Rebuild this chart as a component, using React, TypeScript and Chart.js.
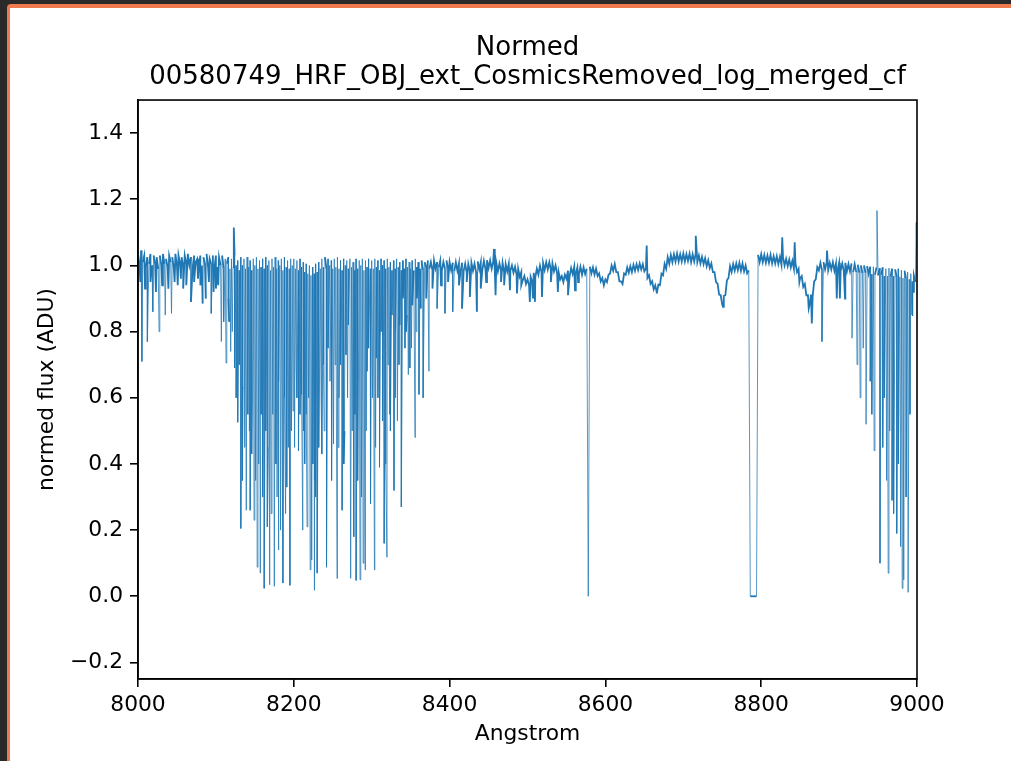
import { useEffect, useRef } from 'react';
import { Chart, registerables } from 'chart.js';
Chart.register(...registerables);

// Continuum samples (normed flux), 2 Å apart, starting at the segment's wavelength
const cont8000 = [1.035, 1.0, 1.045, 1.01, 1.03, 0.995, 1.025, 1.005, 1.035, 1.0,
  1.03, 1.005, 1.025, 0.99, 1.03, 1.0, 1.035, 1.005, 1.02, 0.995,
  1.03, 1.01, 1.025, 0.99, 1.035, 1.0, 1.03, 1.005, 1.025, 0.995,
  1.03, 1.005, 1.035, 1.0, 1.025, 0.99, 1.03, 1.01, 1.02, 0.995,
  1.03, 1.0, 1.025, 1.005, 1.035, 0.995, 1.02, 1.005, 1.03, 0.99];
const cont8100 = [1.03, 0.995, 1.025, 1.0, 1.03, 0.99, 1.02, 1.005, 1.025, 0.99,
  1.02, 0.995, 1.03, 1.0, 1.015, 0.985, 1.025, 1.0, 1.02, 0.99,
  1.025, 0.995, 1.015, 0.985, 1.02, 1.0, 1.025, 0.99, 1.015, 0.995,
  1.02, 0.99, 1.025, 1.0, 1.015, 0.985, 1.02, 0.995, 1.025, 0.99,
  1.015, 1.0, 1.02, 0.985, 1.025, 0.995, 1.015, 0.99, 1.02, 1.0];
const cont8200 = [1.02, 0.99, 1.015, 0.985, 1.02, 0.995, 1.01, 0.98, 1.005, 0.975,
  1.0, 0.97, 0.995, 0.975, 1.005, 0.98, 1.01, 0.99, 1.02, 0.995,
  1.025, 0.99, 1.02, 1.0, 1.015, 0.99, 1.02, 0.995, 1.025, 0.99,
  1.015, 0.985, 1.02, 1.0, 1.015, 0.99, 1.02, 0.995, 1.01, 0.985,
  1.02, 0.99, 1.015, 1.0, 1.02, 0.985, 1.015, 0.995, 1.02, 0.99];
const cont8300 = [1.015, 0.99, 1.02, 0.995, 1.015, 0.985, 1.02, 1.0, 1.015, 0.99,
  1.02, 0.995, 1.01, 0.985, 1.015, 0.99, 1.02, 0.995, 1.01, 0.985,
  1.015, 0.99, 1.02, 0.995, 1.01, 0.99, 1.015, 0.985, 1.02, 0.995,
  1.01, 0.99, 1.015, 0.985, 1.01, 0.995, 1.015, 0.99, 1.01, 0.985,
  1.015, 0.99, 1.01, 0.995, 1.015, 0.985, 1.01, 0.99, 1.015, 0.99];
const cont8400 = [1.01, 0.985, 1.008, 0.982, 1.01, 0.984, 1.006, 0.98, 1.008, 0.983,
  1.005, 0.978, 1.004, 0.982, 1.008, 0.984, 1.005, 0.98, 1.012, 0.988,
  1.01, 0.986, 1.014, 0.99, 1.016, 0.992, 1.015, 0.99, 1.012, 0.986,
  1.008, 0.982, 1.006, 0.984, 1.008, 0.98, 1.004, 0.982, 1.006, 0.984,
  1.0, 0.978, 0.996, 0.972, 0.99, 0.966, 0.98, 0.956, 0.968, 0.944];
const cont8500 = [0.958, 0.94, 0.966, 0.952, 0.978, 0.964, 0.99, 0.972, 1.0, 0.98,
  1.008, 0.986, 1.01, 0.988, 1.01, 0.986, 1.006, 0.982, 1.0, 0.976,
  0.98, 0.958, 0.968, 0.95, 0.972, 0.96, 0.984, 0.966, 0.992, 0.974,
  0.996, 0.976, 0.994, 0.974, 0.996, 0.972, 0.994, 0.974, 0.99, 0.0,
  0.996, 0.976, 0.994, 0.972, 0.99, 0.968, 0.976, 0.952, 0.962, 0.94];
const cont8600 = [0.958, 0.95, 0.972, 0.976, 1.0, 0.984, 1.004, 0.98, 0.98, 0.952,
  0.952, 0.944, 0.976, 0.972, 0.994, 0.978, 0.998, 0.98, 1.002, 0.984,
  1.004, 0.986, 1.006, 0.988, 1.004, 0.982, 0.99, 0.962, 0.97, 0.944,
  0.952, 0.928, 0.94, 0.918, 0.942, 0.94, 0.975, 0.97, 1.005, 0.99,
  1.025, 1.005, 1.032, 1.01, 1.034, 1.012, 1.036, 1.012, 1.034, 1.012];
const cont8700 = [1.036, 1.012, 1.034, 1.014, 1.036, 1.01, 1.034, 1.012, 1.036, 1.01,
  1.03, 1.006, 1.026, 1.004, 1.022, 0.998, 1.016, 0.992, 1.006, 0.98,
  0.98, 0.95, 0.945, 0.912, 0.91, 0.882, 0.908, 0.91, 0.955, 0.962,
  0.998, 0.98, 1.004, 0.984, 1.006, 0.986, 1.008, 0.984, 1.006, 0.982,
  1.0, 0.976, 0.985, 0.0, 0.0, 0.0, 0.0, 0.0, 1.032, 1.01];
const cont8800 = [1.034, 1.01, 1.032, 1.008, 1.03, 1.008, 1.032, 1.006, 1.028, 1.006,
  1.028, 1.004, 1.026, 1.002, 1.024, 1.0, 1.02, 0.998, 1.018, 0.994,
  1.014, 0.99, 1.006, 0.98, 0.99, 0.962, 0.968, 0.935, 0.944, 0.91,
  0.91, 0.88, 0.912, 0.905, 0.952, 0.958, 0.995, 0.985, 1.008, 0.986,
  1.01, 0.988, 1.01, 0.986, 1.008, 0.988, 1.01, 0.984, 1.006, 0.986];
const cont8900 = [1.008, 0.984, 1.006, 0.984, 1.008, 0.982, 1.004, 0.982, 1.006, 0.98,
  1.004, 0.98, 1.002, 0.978, 1.0, 0.976, 1.0, 0.978, 0.998, 0.974,
  0.996, 0.974, 0.996, 0.972, 0.994, 0.97, 0.992, 0.972, 0.994, 0.968,
  0.99, 0.968, 0.992, 0.966, 0.99, 0.968, 0.988, 0.964, 0.99, 0.966,
  0.986, 0.962, 0.984, 0.96, 0.98, 0.958, 0.975, 0.952, 0.97, 0.95, 0.965];

const segmentStarts = [8000, 8100, 8200, 8300, 8400, 8500, 8600, 8700, 8800, 8900];
const segments = [cont8000, cont8100, cont8200, cont8300, cont8400, cont8500, cont8600, cont8700, cont8800, cont8900];
const sampleStep = 2;

// Narrow absorption lines / spikes: [wavelength (Å), flux at line centre]
const linesBlue: number[][] = [
  [8003, 0.95], [8005, 0.71], [8009, 0.93], [8012, 0.77], [8016, 0.95], [8019, 0.86],
  [8023, 0.92], [8027, 0.80], [8031, 0.94], [8035, 0.85], [8039, 0.93], [8043, 0.855],
  [8047, 0.95], [8051, 0.94], [8055, 0.96], [8058, 0.93], [8062, 0.94], [8068, 0.89],
  [8072, 0.95], [8077, 0.96], [8080, 0.94], [8083, 0.885], [8087, 0.90], [8091, 0.95],
  [8094, 0.855], [8097, 0.92], [8100, 0.93], [8103, 0.94], [8107, 0.77], [8110, 0.83],
  [8113, 0.705], [8116, 0.90], [8117, 0.83], [8119, 0.74], [8121, 0.80], [8123, 1.115], [8124, 0.69],
];
const linesForest: number[][] = [
  [8126, 0.6], [8128, 0.526], [8130, 0.7], [8132, 0.205], [8134, 0.35], [8135, 0.63],
  [8137, 0.45], [8139, 0.26], [8141, 0.55], [8143, 0.5], [8144, 0.26], [8146, 0.43],
  [8147, 0.6], [8149, 0.23], [8151, 0.35], [8153, 0.088], [8155, 0.4], [8157, 0.07],
  [8158, 0.55], [8160, 0.30], [8162, 0.024], [8164, 0.5], [8166, 0.21], [8167.5, 0.45],
  [8169, 0.035], [8171, 0.25], [8173, 0.55], [8175, 0.03], [8177, 0.4], [8178.5, 0.3],
  [8180, 0.14], [8181, 0.65], [8183, 0.2], [8185, 0.5], [8186, 0.04], [8188, 0.6],
  [8189.5, 0.25], [8191, 0.33], [8193, 0.45], [8195, 0.033], [8197, 0.5], [8199, 0.56],
  [8201, 0.45], [8203, 0.7], [8204, 0.6], [8206, 0.44], [8208, 0.55], [8210, 0.61],
  [8211.5, 0.20], [8212.5, 0.5], [8214, 0.4], [8216, 0.55], [8217, 0.21], [8219, 0.6],
  [8221, 0.08], [8223, 0.11], [8224.5, 0.4], [8226, 0.018], [8227, 0.35], [8228, 0.3],
  [8230, 0.07], [8232, 0.45], [8233, 0.65], [8235, 0.6], [8236, 0.43], [8238, 0.7],
  [8239, 0.5], [8242, 0.088], [8244, 0.75], [8246.5, 0.65], [8248, 0.55], [8249, 0.35],
  [8251, 0.46], [8253, 0.7], [8255.5, 0.054], [8257, 0.45], [8258, 0.6], [8260, 0.7],
  [8262, 0.26], [8264, 0.4], [8265, 0.5], [8267, 0.73], [8269, 0.6], [8270, 0.82],
  [8273, 0.054], [8275, 0.5], [8277, 0.18], [8278.5, 0.55], [8280, 0.048], [8282, 0.35],
  [8283, 0.65], [8285, 0.05], [8287, 0.3], [8289, 0.10], [8291.5, 0.08], [8293, 0.5],
  [8294, 0.68], [8296, 0.75], [8298, 0.6], [8299, 0.28], [8301, 0.6], [8303.5, 0.08],
  [8305, 0.45], [8306, 0.72], [8308, 0.6], [8310, 0.39], [8312, 0.8], [8314, 0.53],
  [8316, 0.16], [8318, 0.4], [8319.6, 0.118], [8321, 0.7], [8323, 0.55], [8324, 0.5],
  [8326, 0.85], [8328.6, 0.32], [8330, 0.6], [8331, 0.8], [8333, 0.53], [8335, 0.7],
  [8336, 0.82], [8338, 0.27], [8340, 0.9], [8342.7, 0.75], [8344, 0.8], [8345, 0.85],
  [8347, 0.67], [8349, 0.69], [8351, 0.75], [8352, 0.88], [8355.6, 0.48], [8357, 0.8],
  [8358, 0.9], [8360.7, 0.61], [8363, 0.87], [8366, 0.60], [8370, 0.9], [8373.5, 0.68],
  [8378, 0.93], [8384, 0.87], [8389, 0.94], [8394, 0.855], [8398, 0.95],
];
const linesMiddle: number[][] = [
  [8404, 0.86], [8412, 0.94], [8416, 0.87], [8422, 0.95], [8426, 0.905], [8435, 0.86],
  [8440, 0.93], [8447, 0.95], [8457, 1.05], [8459, 0.91], [8466, 0.95], [8470, 0.94],
  [8477.5, 0.925], [8486.5, 0.915], [8492, 0.94], [8503, 0.89], [8507, 0.90], [8509.6, 0.89],
  [8518.6, 0.905], [8530, 0.95], [8539, 0.92], [8552, 0.91], [8561, 0.925], [8565, 0.95],
  [8653, 1.06], [8666, 0.915], [8716, 1.09], [8751, 0.875],
];
const linesRed: number[][] = [
  [8827, 1.085], [8843, 1.07], [8849, 0.95], [8861, 0.87], [8865, 0.825], [8878, 0.77],
  [8884.5, 1.045], [8897, 0.90], [8901, 0.90], [8907.6, 0.90], [8916.6, 0.78], [8923, 0.7],
  [8927, 0.60], [8931, 0.75], [8934.6, 0.52], [8940, 0.65], [8942, 0.55], [8945, 0.44],
  [8948.6, 1.166], [8952.5, 0.10], [8956, 0.45], [8958, 0.6], [8961, 0.35], [8963, 0.07],
  [8965, 0.5], [8968, 0.29], [8970, 0.25], [8974, 0.19], [8976, 0.4], [8979, 0.15],
  [8981, 0.024], [8983, 0.05], [8986, 0.3], [8988.6, 0.012], [8991, 0.55], [8993.6, 0.85],
  [8995, 0.92], [8999, 1.13],
];

const xTicks = [8000, 8200, 8400, 8600, 8800, 9000];
const yTicks = [-0.2, 0.0, 0.2, 0.4, 0.6, 0.8, 1.0, 1.2, 1.4];

const FONT = "'DejaVu Sans', sans-serif";

function buildPoints() {
  const pts: { x: number; y: number }[] = [];
  segments.forEach((arr, s) => {
    arr.forEach((v, i) => pts.push({ x: segmentStarts[s] + sampleStep * i, y: v }));
  });
  [linesBlue, linesForest, linesMiddle, linesRed].forEach((list) =>
    list.forEach(([x, y]) => pts.push({ x, y }))
  );
  pts.sort((a, b) => a.x - b.x);
  return pts;
}

const framePlugin = {
  id: 'frameBox',
  afterDatasetsDraw(chart: any) {
    const { ctx, chartArea } = chart;
    ctx.save();
    ctx.strokeStyle = '#000';
    ctx.lineWidth = 1.6;
    ctx.strokeRect(chartArea.left, chartArea.top, chartArea.right - chartArea.left, chartArea.bottom - chartArea.top);
    ctx.restore();
  },
};

export default function App() {
  const ref = useRef<HTMLCanvasElement>(null);
  useEffect(() => {
    if (!ref.current) return;
    const chart = new Chart(ref.current, {
      type: 'line',
      data: {
        datasets: [
          {
            data: buildPoints(),
            borderColor: '#1f77b4',
            borderWidth: 1.8,
            pointRadius: 0,
            tension: 0,
            fill: false,
            segment: {
              // deep, near-vertical line strokes render thinner (lighter), like the original
              borderWidth: (c: any) => (Math.abs(c.p1.y - c.p0.y) > 40 ? 0.75 : 1.8),
            },
          },
        ],
      },
      options: {
        animation: false,
        responsive: false,
        devicePixelRatio: 1,
        parsing: false,
        normalized: true,
        layout: { padding: { left: 0, right: 94, top: 0, bottom: 0 } },
        plugins: {
          legend: { display: false },
          tooltip: { enabled: false },
          title: {
            display: true,
            fullSize: false,
            text: ['Normed', '00580749_HRF_OBJ_ext_CosmicsRemoved_log_merged_cf'],
            color: '#000',
            font: { family: FONT, size: 26, weight: 'normal', lineHeight: 1.12 },
            padding: { top: 33.4, bottom: 8.4 },
          },
        },
        scales: {
          x: {
            type: 'linear',
            min: 8000,
            max: 9000,
            afterBuildTicks: (s: any) => {
              s.ticks = xTicks.map((v) => ({ value: v }));
            },
            afterFit: (s: any) => {
              s.height = 82;
            },
            ticks: {
              callback: (v: any) => String(v),
              color: '#000',
              font: { family: FONT, size: 21.8 },
              padding: 5,
              maxRotation: 0,
              autoSkip: false,
            },
            grid: { drawOnChartArea: false, drawTicks: true, tickLength: 8, color: '#000', lineWidth: 1.6 },
            border: { display: true, color: '#000', width: 1.6 },
            title: {
              display: true,
              text: 'Angstrom',
              color: '#000',
              font: { family: FONT, size: 21.8, lineHeight: 1.2 },
              padding: { top: 0, bottom: 14 },
            },
          },
          y: {
            type: 'linear',
            min: -0.25,
            max: 1.5,
            afterBuildTicks: (s: any) => {
              s.ticks = yTicks.map((v) => ({ value: v }));
            },
            afterFit: (s: any) => {
              s.width = 138;
            },
            ticks: {
              callback: (v: any) => (v < 0 ? '\u2212' : '') + Math.abs(Number(v)).toFixed(1),
              color: '#000',
              font: { family: FONT, size: 21.8 },
              padding: 7,
              autoSkip: false,
            },
            grid: { drawOnChartArea: false, drawTicks: true, tickLength: 8, color: '#000', lineWidth: 1.6 },
            border: { display: true, color: '#000', width: 1.6 },
            title: {
              display: true,
              text: 'normed flux (ADU)',
              color: '#000',
              font: { family: FONT, size: 21.8, lineHeight: 1.2 },
              padding: { top: 34, bottom: 0 },
            },
          },
        },
      },
      plugins: [framePlugin],
    } as any);
    return () => chart.destroy();
  }, []);

  return (
    <div style={{ position: 'fixed', left: 0, top: 0, width: 1011, height: 761, background: '#2a2a2a', overflow: 'hidden' }}>
      <div
        style={{
          position: 'absolute',
          left: 7,
          top: 4,
          right: 0,
          bottom: 0,
          background: '#fff',
          borderTop: '4px solid #f07a50',
          borderLeft: '3px solid #f07a50',
          borderTopLeftRadius: 4,
        }}
      />
      <canvas ref={ref} width={1011} height={761} style={{ position: 'absolute', left: 0, top: 0, width: 1011, height: 761 }} />
    </div>
  );
}
